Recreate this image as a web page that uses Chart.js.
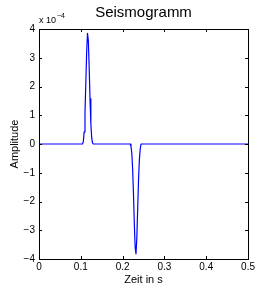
<!DOCTYPE html>
<html>
<head>
<meta charset="utf-8">
<script src="https://cdn.jsdelivr.net/npm/chart.js@4/dist/chart.umd.min.js"></script>
<style>
html,body{margin:0;padding:0;background:#fff;}
#wrap{width:257px;height:285px;position:relative;}
</style>
</head>
<body>
<div id="wrap"><canvas id="c" width="257" height="285"></canvas></div>
<script>
// Time samples (s)
const timeS = [0, 0.104, 0.106, 0.108, 0.110, 0.112, 0.114, 0.116, 0.118, 0.120, 0.122, 0.124, 0.126, 0.128, 0.130,
               0.218, 0.220, 0.222, 0.224, 0.226, 0.228, 0.230, 0.232, 0.234, 0.236, 0.238, 0.240, 0.242, 0.244, 0.5];
// Amplitude (x 10^-4)
const amplitude = [0, 0, 0.08, 0.42, 1.10, 2.11, 3.20, 3.85, 3.60, 2.68, 1.57, 0.72, 0.22, 0.04, 0,
                   0, -0.08, -0.33, -0.89, -1.75, -2.78, -3.60, -3.82, -3.25, -2.26, -1.28, -0.56, -0.18, 0, 0];
const xTickValues = [0, 0.1, 0.2, 0.3, 0.4, 0.5];
const xTickLabels = ['0', '0.1', '0.2', '0.3', '0.4', '0.5'];
const yTickValues = [-4, -3, -2, -1, 0, 1, 2, 3, 4];
const yTickLabels = ['\u22124', '\u22123', '\u22122', '\u22121', '0', '1', '2', '3', '4'];
const chartTitle = 'Seismogramm';
const xTitle = 'Zeit in s';
const yTitle = 'Amplitude';
const expBase = 'x 10';
const expPow = '\u22124';

const FONT = "'Liberation Sans', Arial, Helvetica, sans-serif";
const points = timeS.map((t, i) => ({x: t, y: amplitude[i]}));

const framePlugin = {
  id: 'frame',
  afterDraw(chart) {
    const {ctx, chartArea: a, scales} = chart;
    const tl = 3;
    ctx.save();
    ctx.strokeStyle = '#000';
    ctx.lineWidth = 1;
    ctx.beginPath();
    xTickValues.forEach(v => {
      const px = Math.round(scales.x.getPixelForValue(v)) + 0.5;
      ctx.moveTo(px, a.bottom); ctx.lineTo(px, a.bottom - tl);
      ctx.moveTo(px, a.top); ctx.lineTo(px, a.top + tl);
    });
    yTickValues.forEach(v => {
      const py = Math.round(scales.y.getPixelForValue(v)) + 0.5;
      ctx.moveTo(a.left, py); ctx.lineTo(a.left + tl, py);
      ctx.moveTo(a.right, py); ctx.lineTo(a.right - tl, py);
    });
    ctx.stroke();
    ctx.strokeRect(Math.round(a.left) + 0.5, Math.round(a.top) + 0.5,
                   Math.round(a.right - a.left), Math.round(a.bottom - a.top));
    // title centred over plot area
    ctx.fillStyle = '#000';
    ctx.textAlign = 'center';
    ctx.textBaseline = 'middle';
    ctx.font = '15px ' + FONT;
    ctx.fillText(chartTitle, (a.left + a.right) / 2, 13);
    // exponent label
    ctx.textAlign = 'left';
    ctx.textBaseline = 'alphabetic';
    ctx.font = '9px ' + FONT;
    ctx.fillText(expBase, a.left, a.top - 6);
    const w = ctx.measureText(expBase).width;
    ctx.font = '7px ' + FONT;
    ctx.fillText(expPow, a.left + w + 1, a.top - 11);
    ctx.restore();
  }
};

new Chart(document.getElementById('c'), {
  type: 'line',
  data: {
    datasets: [{
      data: points,
      borderColor: '#0000ff',
      borderWidth: 1.2,
      borderJoinStyle: 'round',
      borderCapStyle: 'round',
      pointRadius: 0,
      tension: 0,
      fill: false
    }]
  },
  options: {
    responsive: false,
    animation: false,
    devicePixelRatio: 1,
    layout: {padding: {left: 0, right: 8, top: 29, bottom: 0}},
    plugins: {legend: {display: false}, title: {display: false}, tooltip: {enabled: false}},
    scales: {
      x: {
        type: 'linear', min: 0, max: 0.5,
        afterFit(s) { s.height = 26; },
        afterBuildTicks(s) { s.ticks = xTickValues.map(v => ({value: v})); },
        grid: {display: false, drawTicks: false},
        border: {display: false},
        ticks: {
          padding: 2, color: '#000', maxRotation: 0, autoSkip: false,
          font: {family: FONT, size: 10},
          callback: (v) => { const i = xTickValues.findIndex(t => Math.abs(t - v) < 1e-9); return i >= 0 ? xTickLabels[i] : ''; }
        },
        title: {display: true, text: xTitle, color: '#000', font: {family: FONT, size: 11}, padding: {top: 0, bottom: -1.5}}
      },
      y: {
        type: 'linear', min: -4, max: 4,
        afterFit(s) { s.width = 39; },
        afterBuildTicks(s) { s.ticks = yTickValues.map(v => ({value: v})); },
        grid: {display: false, drawTicks: false},
        border: {display: false},
        ticks: {
          padding: 4, color: '#000', autoSkip: false,
          font: {family: FONT, size: 10},
          callback: (v) => { const i = yTickValues.indexOf(v); return i >= 0 ? yTickLabels[i] : ''; }
        },
        title: {display: true, text: yTitle, color: '#000', font: {family: FONT, size: 11}, padding: {top: 8, bottom: 0}}
      }
    }
  },
  plugins: [framePlugin]
});
</script>
</body>
</html>
